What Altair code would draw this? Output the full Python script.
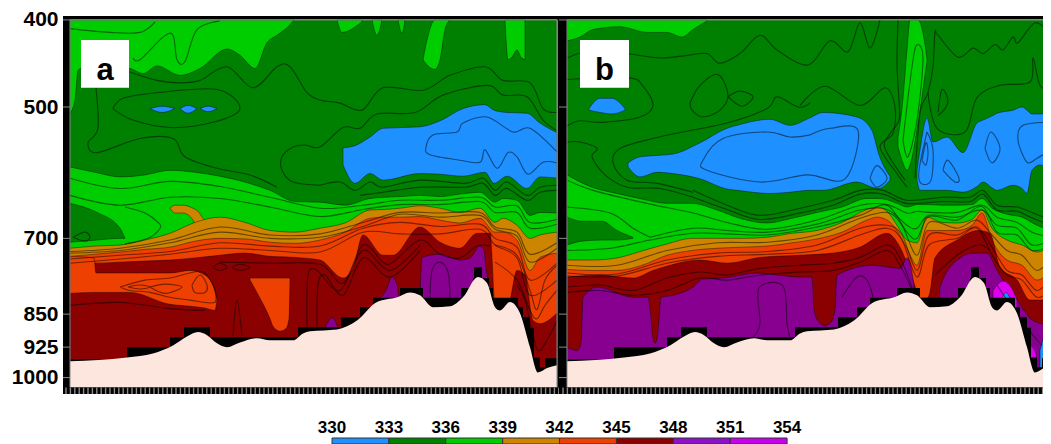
import altair as alt
import pandas as pd
import numpy as np

FONT = "Liberation Sans"
BLUE, GREEN, LIME, OCHRE, ORANGE, RED, PURPLE, MAGENTA = (
    "#1e90ff", "#008000", "#00cd00", "#cd8500", "#ee4000", "#8b0000", "#87008f", "#dd00ee")
GROUND = "#fde6de"
LEGEND_COLORS = ["#1e90ff", "#008000", "#00cd00", "#cd8500", "#ee4000", "#8b0000", "#8b12c8", "#c800ee"]
LEGEND_EDGES = [330, 333, 336, 339, 342, 345, 348, 351, 354]
P_TICKS = [400, 500, 700, 850, 925, 1000]
P_TOP, P_BOT = 396, 1043
P_FRAME = 1025

TERRAIN_X = [0,57,83,103,117,128,137,147,157,170,187,200,223,233,240,267,287,307,327,340,350,363,380,393,408,417,425,430,440,450,460,468,477,487]
TERRAIN_P = [959,950,940,921,900,890,897,916,925,914,904,909,909,893,888,884,864,824,814,804,810,835,833,814,773,785,835,842,824,848,925,987,976,969]
STEP_X = [0,57,100,114,140,228,271,290,303,330,353,391,403,404,412,419,423,448,453,460,464,470,475,487]
STEP_P = [955,925,902,879,902,879,857,835,815,795,815,795,775,754,775,795,815,835,857,880,950,974,952,952]
STEP_B_X = [0,47,100,114,140,228,271,290,303,330,353,391,403,404,412,419,423,448,453,460,464,470,475,487]

# ---------- panel a: filled bands ----------
GA = [0,25,50,75,100,125,150,175,200,225,250,275,300,315,330,350,370,390,410,425,433,447,460,470,487]
A_GREEN = [583,591,598,595,588,591,597,606,619,637,638,643,632,630,629,627,629,625,622,638,632,635,660,655,656]
A_OCHRE = [718,714,712,703,691,672,663,672,686,689,682,673,651,650,648,644,648,655,648,672,665,677,700,694,689]
A_ORANGE = [733,729,725,720,716,705,700,701,707,709,703,689,665,663,663,662,668,673,665,689,689,703,760,735,727]
A_RED_X = [0,25,50,75,100,125,150,175,200,225,250,273,283,293,313,323,350,370,390,407,420,425,433,440,447,455,463,470,487]
A_RED = [736,746,744,742,740,736,731,727,733,735,740,775,756,694,731,731,680,707,718,691,691,831,846,820,760,769,864,871,848]
A_TOP_X = [0,5,8,20,60,73,87,110,130,157,170,185,197,207,220,224]
A_TOP = [508,491,455,449,453,459,450,461,453,431,438,453,424,416,405,400]
A_BLUE_X = [273,285,300,313,350,370,393,415,424,437,457,470,487]
A_BLUE_T = [555,552,540,528,526,518,502,497,504,507,508,521,534]
A_BLUE_B = [580,608,593,603,593,594,597,591,608,597,616,598,600]
# (x, top, bottom, colour) patches of panel a, listed in drawing order
A_UPPER = [
    ([80,92,105], [502,499,502], [502,507,502], BLUE),
    ([110,118,127], [502,498,502], [502,508,502], BLUE),
    ([130,138,147], [502,499,502], [502,506,502], BLUE),
    ([267,272,292], [400,400,400], [400,413,402], LIME),
    ([302,307,312], [400,400,400], [400,416,400], LIME),
    ([328,332,335], [400,400,400], [400,414,400], LIME),
    ([353,357,365,370,375,380], [443,421,400,400,400,400], [443,449,454,443,410,400], LIME),
    ([435,438,442,447,451,455], [400,400,400,400,400,400], [400,443,440,432,440,443], LIME),
]
A_LEFTPATCH = ([0,27,50,55], [640,655,682,700], [707,703,700,700], GREEN)
A_TONGUE = ([100,105,113,123,128,133,137], [648,643,643,648,653,665,672], [648,656,656,668,689,689,689], OCHRE)
A_ORANGE1 = ([0,24,26,60,100,120,135,145,147], [733,736,765,765,765,760,769,800,820], [806,804,804,804,829,833,837,842,820], ORANGE)
A_ORANGE2 = ([180,190,200,203,210,216,219,220], [775]*8, [779,816,860,877,888,882,860,779], ORANGE)
A_PURPLE = [
    ([350,352,370,390,400,410,414,416,420], [816,735,729,740,736,714,722,756,789], [P_BOT]*9, PURPLE),
    ([310,316,322,327,329], [816,800,773,789,816], [P_BOT]*5, PURPLE),
    ([255,262,268], [880,858,880], [P_BOT]*3, PURPLE),
    ([448,457,463], [831,871,933], [P_BOT]*3, PURPLE),
]

# ---------- panel a: contour lines ----------
XC = [0,50,100,150,200,250,293,330,370,410,425,447,460,487]
A_LINES = [
    ([0,40,70,85], [409,413,413,402]),
    ([63,70,93,103,107,115,127,150], [441,443,418,416,443,445,410,401]),
    ([60,87,110,130,157,183,207,220,237,250,270,292,313,353,380,415,433,460,473,487],
     [457,467,470,467,451,476,451,451,482,491,495,504,476,479,461,451,467,470,502,507]),
    ([43,53,87,147,170,143,100,63,43], [502,489,482,478,502,520,527,517,502]),
    ([25,28,18,27,70,103,115,147,180,207], [464,527,548,562,542,542,568,585,595,614]),
    ([250,223,212,212,223,235,250,273,290,307,345,373,417,433,457,473,487],
     [611,606,588,568,554,551,554,527,528,509,507,485,473,485,487,517,531]),
    ([250,270,285,300,313,350,395,413,425,437,457,470,487], [611,606,619,606,614,603,608,600,619,606,627,614,611]),
    ([290,313,350,395,413,425,437,457,470,487], [627,622,614,614,608,627,616,635,622,619]),
    ([487,460,443,417,393,387,363,356,360,390,410,415,427,438,447,458,473,487],
     [561,528,533,513,521,533,537,554,565,573,576,558,585,562,568,594,576,577]),
    (XC, [600,616,605,613,630,648,643,635,635,630,646,644,672,667]),
    (XC, [627,643,630,632,646,662,650,642,642,637,655,655,682,675]),
    (XC, [724,718,703,680,694,692,672,655,656,655,680,689,729,708]),
    (XC, [727,722,708,689,700,698,679,658,663,660,684,696,744,718]),
    (XC, [738,731,724,708,714,714,682,672,679,675,700,716,779,746]),
    (XC, [746,738,729,718,722,725,689,692,692,684,712,736,810,779]),
    ([150,200,250,273,293,313,323,350,370,390,407,420], [744,746,748,785,712,744,744,703,729,736,714,714]),
    ([425,447,460,467,475,487], [712,731,800,840,779,750]),
    ([425,447,460,467,475,487], [744,779,842,860,831,800]),
    ([447,455,463,470,487], [789,820,897,933,864]),
    ([0,50,100,135], [831,825,838,842]),
    ([237,238,247,270,293,320,350], [879,769,760,800,722,760,712]),
    ([247,248,255,273,293,320,350], [879,789,769,810,736,773,722]),
    ([163,167,172], [899,820,899]),
    ([360,362,370,378,380], [820,760,744,763,820]),
    ([50,75,100,120,133,143,146,140,120,100,80,60,50], [793,779,775,765,763,789,820,826,820,814,804,800,793]),
    ([58,70,80,70,58], [793,789,793,797,793]),
    ([80,95,112,95,80], [793,787,793,806,793]),
    ([122,130,137,135,125,122], [789,769,789,804,804,789]),
    ([143,150,157,150,143], [754,746,754,760,754]),
    ([162,170,180,170,162], [754,748,754,760,754]),
    ([3,15,20,15,3], [698,689,698,705,698]),
    ([55,75,88,90,78,55], [646,656,672,682,700,710]),
]

# ---------- panel b: filled bands ----------
GB = [0,25,50,75,100,125,150,175,200,225,250,275,300,310,320,330,340,350,360,375,390,405,415,425,440,455,470,484]
B_GREEN = [595,614,624,633,640,640,651,666,673,665,655,646,632,632,634,640,646,642,642,643,643,642,632,648,658,663,677,686]
B_OCHRE = [740,740,736,723,710,700,700,700,698,691,686,672,650,646,653,677,703,708,663,672,673,667,651,682,703,712,725,712]
B_ORANGE = [758,760,760,750,731,722,718,716,714,708,701,689,668,663,668,686,718,750,686,686,686,677,656,703,740,750,779,760]
B_RED_X = [0,33,66,86,103,133,160,193,233,266,293,320,333,346,353,360,363,368,390,411,423,433,450,463,484]
B_RED = [773,769,775,760,750,740,746,735,731,727,716,691,716,779,816,816,804,736,703,686,691,754,779,820,820]
B_PURPLE_X = [0,10,14,16,30,66,81,84,86,88,90,92,94,106,126,136,156,190,233,245,247,252,258,264,268,270,306,333,340,347,349,371,373,393,406,420,430,450,466,484]
B_PURPLE = [925,933,915,814,793,814,814,860,905,916,905,860,814,810,793,777,775,765,773,773,840,868,875,868,840,769,750,756,736,793,1043,1043,793,736,727,727,760,820,864,875]
B_TOP_X = [0,13,26,53,80,100,115,126,140]
B_TOP = [422,418,410,407,413,413,418,410,401]
B_UPPER = [
    ([22,33,45,58], [502,489,489,502], [504,507,509,504], BLUE),
    ([61,73,90,106,133,160,170,203,223,243,256,290,305,312,323],
     [577,568,566,564,548,528,524,516,524,514,507,513,531,565,597],
     [583,598,591,593,601,617,619,624,622,619,619,606,614,616,603], BLUE),
    ([350,353,360,366,380,396,410,416,426,430,446,455,460,465,473,484],
     [588,558,514,547,540,562,521,517,511,508,504,500,504,509,509,508],
     [603,619,619,619,619,622,613,606,616,619,611,616,624,588,580,588], BLUE),
    ([331,335,340,343,351,358,360], [540,502,432,400,400,426,443], [554,573,588,580,521,461,444], LIME),
]
B_LEFTPATCH = ([0,15,35,50,66], [663,670,670,686,698], [712,705,703,703,700], GREEN)
B_LOWER = [
    ([426,436,446,450], [800,781,800,820], [P_BOT]*4, MAGENTA),
    ([460,468,471], [916,933,977], [P_BOT]*3, MAGENTA),
    ([435,439,443], [816,804,816], [832]*3, BLUE),
    ([473,478,484], [933,893,871], [P_BOT]*3, BLUE),
]

# ---------- panel b: contour lines ----------
XB1 = [0,50,100,150,200,250,293,320,335,350,362,390,410,425,440,455,470,484]
XB2 = [0,43,83,126,160,200,250,293,320,340,350,362,390,415,430,450,465,484]
XB3 = [126,160,193,233,266,293,316,340,376,403,416,430,450,466,484]
B_LINES = [
    ([0,26,60,93,120,140,153,173,193,210,241,263,281,293,303,313],
     [441,432,436,441,438,436,447,436,416,432,449,422,434,403,430,400]),
    ([0,61,76,86,73,36,13,0], [466,464,474,498,513,520,518,525]),
    ([123,133,151,161,153,136,125,123], [495,473,460,485,504,513,504,495]),
    ([161,173,186,175,161], [487,480,487,499,487]),
    ([0,13,30,25,38,60,93,126], [547,547,556,568,595,614,616,630]),
    ([243,231,210,200,160,116,86,53,46,60,90,126], [495,500,487,502,521,533,542,556,577,603,608,622]),
    ([233,258,293,318,328,326,313,330,340], [498,474,498,476,500,535,554,593,614]),
    ([243,223,200,156,136,140,193,240,278,291,263,243], [537,540,533,542,573,588,606,595,601,531,528,537]),
    ([303,310,320,310,303], [600,581,600,614,600]),
    ([371,375,381,378,371], [507,478,491,502,511]),
    ([360,352,354,364,366,360], [533,588,608,603,558,533]),
    ([355,359,361,359,355], [573,548,562,580,573]),
    ([376,381,392,388,376], [588,573,600,606,588]),
    ([418,424,433,425,418], [556,533,556,577,556]),
    ([484,456,451,460,470,484], [520,524,544,576,570,558]),
    ([348,353,361,366,368,371,391,406,416,428,436,446,451,468,481],
     [600,508,482,451,413,416,440,430,436,426,432,418,424,403,413]),
    ([331,330,332,332,322,318,338], [400,448,491,517,537,556,603]),
    ([361,370,398,410,433,463,466,473,484], [482,528,533,488,473,469,441,473,479]),
    ([336,346,351,356,350,341,336], [544,443,426,443,517,568,544]),
    (XB3, [619,643,660,648,635,619,619,635,630,630,619,643,646,656,668]),
    (XB3, [630,650,667,656,643,625,625,640,637,637,625,651,653,665,677]),
    ([0,26,80,126,160,200,250,293,320,340,350,362,390,415,430,450,465,484],
     [603,619,640,656,672,684,668,643,642,656,653,655,655,643,663,672,689,698]),
    ([0,43,66,83], [646,656,682,698]),
    ([83,126,160,200,250,293,320,340,350,362,390,415,430,450,465,484],
     [698,682,686,689,675,651,650,677,682,660,663,651,677,682,712,703]),
    (XB2, [722,718,703,691,692,694,680,660,643,689,700,662,668,645,689,694,722,712]),
    (XB1, [750,750,722,708,707,694,665,655,677,731,672,682,668,694,722,731,760,736]),
    (XB1, [765,767,740,727,724,712,682,677,694,760,694,694,680,716,760,769,800,775]),
    (XB1, [771,771,746,733,729,722,694,682,703,773,712,700,682,731,769,779,814,800]),
    ([0,33,66,100,133,160,193,233,266,293,320,333,346], [793,789,800,775,763,769,756,750,746,735,712,736,800]),
    ([0,33,66,100,133,160,193,233,266,293,320,333,346], [804,800,810,800,775,779,769,763,760,744,722,750,804]),
    ([368,390,411,423], [769,731,712,722]),
    ([186,193,192,216,220,223], [902,871,795,791,871,902]),
    ([275,290,300,306], [814,773,779,814]),
    ([430,450,466,475], [789,852,897,921]),
]

X_TICKS = np.arange(-4, 490, 4.4)


def panel(width, x0, x1, bands, lines, steps_x, letter, box, axis):
    xs = alt.Scale(domain=[x0, x1], nice=False, zero=False)
    ys = alt.Scale(type="log", domain=[P_TOP, P_BOT], reverse=True, nice=False, zero=False)
    X = alt.X("x:Q", scale=xs, axis=None)
    Y = alt.Y("p:Q", scale=ys, axis=axis)

    def area(b, edge=True, interp="monotone"):
        df = pd.DataFrame({"x": b[0], "p": b[1], "p2": b[2]})
        kw = dict(stroke="#000000", strokeWidth=0.9, strokeOpacity=0.45) if edge else {}
        return alt.Chart(df).mark_area(color=b[3], interpolate=interp, clip=True, **kw).encode(
            x=X, y=Y, y2=alt.Y2("p2:Q"))

    def rect(x, x2, p, p2, color):
        df = pd.DataFrame({"x": [x], "x2": [x2], "p": [p], "p2": [p2]})
        return alt.Chart(df).mark_rect(color=color, clip=True).encode(
            x=X, x2=alt.X2("x2:Q"), y=Y, y2=alt.Y2("p2:Q"))

    rows = []
    for k, (lx, lp) in enumerate(lines):
        rows += [{"id": k, "i": i, "x": a, "p": b} for i, (a, b) in enumerate(zip(lx, lp))]
    contour = alt.Chart(pd.DataFrame(rows)).mark_line(
        color="#000000", strokeWidth=1.1, opacity=0.5, interpolate="cardinal", clip=True
    ).encode(x=X, y=Y, detail="id:N", order="i:Q")

    layers = [rect(0, 487, 400, P_FRAME, GREEN)]
    layers += [area(b, edge=e) for b, e in bands]
    layers.append(contour)
    layers.append(area((steps_x, STEP_P, [P_BOT] * len(STEP_P), "#000000"), edge=False, interp="step-after"))
    layers.append(area((TERRAIN_X, TERRAIN_P, [P_BOT] * len(TERRAIN_P), GROUND), edge=False))
    # frame
    layers += [
        rect(x0, 0, P_TOP, P_BOT, "#000000"),
        rect(x0, x1, P_TOP, 399.5, "#000000"),
        rect(x0, x1, P_FRAME, P_BOT, "#000000"),
    ]
    if x1 > 487:
        layers.append(rect(487.5, x1, P_TOP, P_BOT, "#000000"))
    ticks = pd.DataFrame({"x": X_TICKS, "p": P_FRAME + 1, "p2": P_BOT})
    layers.append(alt.Chart(ticks[ticks.x < x1]).mark_rule(color="#8a8a8a", strokeWidth=1.4, clip=True).encode(
        x=X, y=Y, y2=alt.Y2("p2:Q")))
    lt = pd.DataFrame({"x": x0, "x2": 0, "p": P_TICKS})
    layers.append(alt.Chart(lt).mark_rule(color="#8a8a8a", strokeWidth=1, clip=True).encode(
        x=X, x2=alt.X2("x2:Q"), y=Y))
    edge = pd.DataFrame({"x": [0, 0, 487], "x2": [487, 0, 487], "p": [400, 400, 400], "p2": [400, P_FRAME, P_FRAME]})
    layers.append(alt.Chart(edge).mark_rule(color="#8a8a8a", strokeWidth=1, clip=True).encode(
        x=X, x2=alt.X2("x2:Q"), y=Y, y2=alt.Y2("p2:Q")))
    # panel letter
    layers.append(rect(box[0], box[1], 421, 476, "#ffffff"))
    lab = pd.DataFrame({"x": [(box[0] + box[1]) / 2], "p": [456], "t": [letter]})
    layers.append(alt.Chart(lab).mark_text(font=FONT, fontSize=31, fontWeight="bold", color="#000000",
                                           baseline="middle", align="center").encode(x=X, y=Y, text="t:N"))
    return alt.layer(*layers).properties(width=width, height=378)


y_axis = alt.Axis(values=P_TICKS, title=None, domain=False, ticks=False, grid=False, format="d",
                  labelFont=FONT, labelFontSize=21, labelFontWeight="bold", labelColor="#000000",
                  labelPadding=5, labelOverlap=False, labelFlush=False, labelBound=False)

bands_a = [
    ((A_TOP_X, A_TOP, [400] * len(A_TOP), LIME), True),
    *[(b, True) for b in A_UPPER],
    ((A_BLUE_X, A_BLUE_T, A_BLUE_B, BLUE), True),
    ((GA, A_GREEN, [P_BOT] * len(GA), LIME), True),
    (A_LEFTPATCH, True),
    (A_TONGUE, True),
    ((GA, A_OCHRE, [P_BOT] * len(GA), OCHRE), True),
    ((GA, A_ORANGE, [P_BOT] * len(GA), ORANGE), True),
    ((A_RED_X, A_RED, [P_BOT] * len(A_RED_X), RED), True),
    (A_ORANGE1, True),
    (A_ORANGE2, True),
    *[(b, True) for b in A_PURPLE],
]
bands_b = [
    ((B_TOP_X, B_TOP, [400] * len(B_TOP), LIME), True),
    *[(b, True) for b in B_UPPER],
    ((GB, B_GREEN, [P_BOT] * len(GB), LIME), True),
    (B_LEFTPATCH, True),
    ((GB, B_OCHRE, [P_BOT] * len(GB), OCHRE), True),
    ((GB, B_ORANGE, [P_BOT] * len(GB), ORANGE), True),
    ((B_RED_X, B_RED, [P_BOT] * len(B_RED_X), RED), True),
    ((B_PURPLE_X, B_PURPLE, [P_BOT] * len(B_PURPLE_X), PURPLE), True),
    *[(b, True) for b in B_LOWER],
]

panel_a = panel(496, -7, 489, bands_a, A_LINES, STEP_X, "a", (11, 59), y_axis)
panel_b = panel(492, -8, 484, bands_b, B_LINES, STEP_B_X, "b", (13, 62), None)

LEG_X = alt.Scale(domain=[315.81, 367.92], nice=False, zero=False)
leg = pd.DataFrame({"x": LEGEND_EDGES[:-1], "x2": LEGEND_EDGES[1:], "c": LEGEND_COLORS})
bar = alt.Chart(leg).mark_rect(stroke="#333333", strokeWidth=1).encode(
    x=alt.X("x:Q", scale=LEG_X, axis=None),
    x2=alt.X2("x2:Q"),
    y=alt.value(24), y2=alt.value(30),
    color=alt.Color("c:N", scale=None),
)
leg_txt = alt.Chart(pd.DataFrame({"x": LEGEND_EDGES})).mark_text(
    font=FONT, fontSize=17, fontWeight="bold", color="#000000", baseline="middle", align="center"
).encode(x=alt.X("x:Q", scale=LEG_X, axis=None), y=alt.value(14), text=alt.Text("x:Q", format="d"))
legend = alt.layer(bar, leg_txt).properties(width=988, height=30)

chart = alt.vconcat(
    alt.hconcat(panel_a, panel_b, spacing=0),
    legend,
    spacing=20,
    padding={"left": 3, "top": 0, "right": -8, "bottom": 0},
    background="#ffffff",
).configure_view(strokeWidth=0)

chart.save("out.html", embed_options={"renderer": "svg", "actions": False})
